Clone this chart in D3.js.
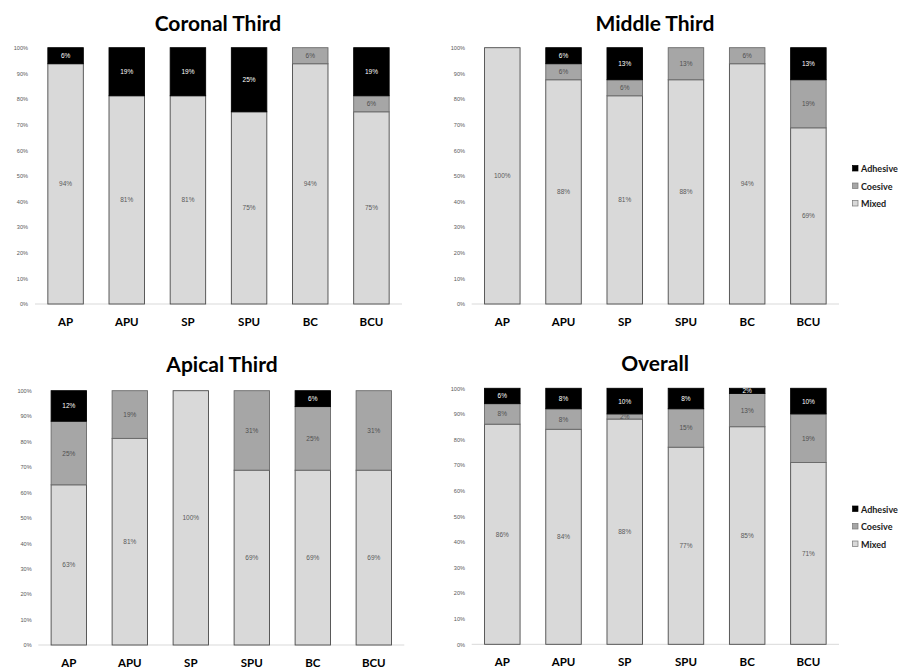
<!DOCTYPE html>
<html><head><meta charset="utf-8">
<script src="https://cdn.jsdelivr.net/npm/d3@7"></script>
<style>body{margin:0;background:#fff}svg{display:block}</style>
</head><body>
<svg id="c" width="898" height="669"></svg>
<script>
const categories = ["AP","APU","SP","SPU","BC","BCU"];
const seriesNames = ["Mixed","Coesive","Adhesive"];
const yTicks = [0,10,20,30,40,50,60,70,80,90,100];
const titles = ["Coronal Third","Middle Third","Apical Third","Overall"];
// values in percent, per category
const coronalMixed    = [93.75, 81.25, 81.25, 75, 93.75, 75];
const coronalCoesive  = [0, 0, 0, 0, 6.25, 6.25];
const coronalAdhesive = [6.25, 18.75, 18.75, 25, 0, 18.75];
const middleMixed     = [100, 87.5, 81.25, 87.5, 93.75, 68.75];
const middleCoesive   = [0, 6.25, 6.25, 12.5, 6.25, 18.75];
const middleAdhesive  = [0, 6.25, 12.5, 0, 0, 12.5];
const apicalMixed     = [63, 81.25, 100, 68.75, 68.75, 68.75];
const apicalCoesive   = [25, 18.75, 0, 31.25, 25, 31.25];
const apicalAdhesive  = [12, 0, 0, 0, 6.25, 0];
const overallMixed    = [86, 84, 88, 77, 85, 71];
const overallCoesive  = [8, 8, 2, 15, 13, 19];
const overallAdhesive = [6, 8, 10, 8, 2, 10];

const panelData = [
  [coronalMixed, coronalCoesive, coronalAdhesive],
  [middleMixed, middleCoesive, middleAdhesive],
  [apicalMixed, apicalCoesive, apicalAdhesive],
  [overallMixed, overallCoesive, overallAdhesive]
];

const layout = [
  {tx:218, ty:22, x0:35, x1:402, y0:304, y1:47.7, tickX:28, catY:321, legend:null},
  {tx:655, ty:22, x0:471.7, x1:839, y0:304, y1:47.7, tickX:465, catY:321, legend:{x:853, y:168.5}},
  {tx:222, ty:363.5, x0:38.3, x1:404.3, y0:645, y1:390.7, tickX:31.7, catY:662, legend:null},
  {tx:655, ty:362.7, x0:471.7, x1:839, y0:644.3, y1:388.3, tickX:465, catY:661, legend:{x:853, y:509}}
];

const fills = {Mixed:"#d9d9d9", Coesive:"#a6a6a6", Adhesive:"#000000"};
const strokes = {Mixed:"#4a4a4a", Coesive:"#6a6a6a", Adhesive:"#000000"};
const labelColors = {Mixed:"#5a5a5a", Coesive:"#505050", Adhesive:"#ffffff"};

const svg = d3.select("#c");

panelData.forEach((arrs, pi) => {
  const L = layout[pi];
  const g = svg.append("g");
  const x = d3.scaleBand().domain(categories).range([L.x0, L.x1]).paddingInner(0.42).paddingOuter(0.21);
  const y = d3.scaleLinear().domain([0,100]).range([L.y0, L.y1]);

  g.append("text").attr("x", L.tx).attr("y", L.ty).attr("text-anchor","middle")
    .attr("dominant-baseline","central")
    .attr("font-family","Lato, 'Open Sans', sans-serif").attr("font-weight","bold")
    .attr("font-size", 21).attr("fill","#000").text(titles[pi]);

  const yAxis = d3.axisLeft(y).tickValues(yTicks).tickSize(0).tickFormat(d => d + "%");
  const ya = g.append("g").attr("transform", `translate(${L.tickX},0)`).call(yAxis);
  ya.select(".domain").remove();
  ya.selectAll("text").attr("x", 0).attr("dx", 0).attr("font-family","'Liberation Sans', Arial, sans-serif")
    .attr("font-size", 5.6).attr("fill","#595959");

  g.append("line").attr("x1", L.x0).attr("x2", L.x1).attr("y1", y(0)).attr("y2", y(0))
    .attr("stroke","#d9d9d9").attr("stroke-width",1);

  const rows = categories.map((c, i) => {
    const r = {cat: c};
    seriesNames.forEach((s, si) => r[s] = arrs[si][i]);
    return r;
  });
  const stack = d3.stack().keys(seriesNames)(rows);

  stack.forEach(layer => {
    const key = layer.key;
    g.append("g").selectAll("rect").data(layer.filter(d => d[1] - d[0] > 0)).enter().append("rect")
      .attr("x", d => x(d.data.cat)).attr("width", x.bandwidth())
      .attr("y", d => y(d[1])).attr("height", d => y(d[0]) - y(d[1]))
      .attr("fill", fills[key]).attr("stroke", strokes[key]).attr("stroke-width", 0.9);
  });
  stack.forEach(layer => {
    const key = layer.key;
    g.append("g").selectAll("text").data(layer.filter(d => d[1] - d[0] > 0)).enter().append("text")
      .attr("x", d => x(d.data.cat) + x.bandwidth()/2)
      .attr("y", d => y((d[0] + d[1]) / 2))
      .attr("text-anchor","middle").attr("dominant-baseline","central")
      .attr("font-family","'Liberation Sans', Arial, sans-serif").attr("font-size", 6.5)
      .attr("fill", labelColors[key])
      .text(d => Math.round(d[1] - d[0]) + "%");
  });

  const xAxis = d3.axisBottom(x).tickSize(0);
  const xa = g.append("g").attr("transform", `translate(0,${L.catY})`).call(xAxis);
  xa.select(".domain").remove();
  xa.selectAll("text").attr("y", 0).attr("dy", 0).attr("dominant-baseline","central")
    .attr("font-family","Lato, 'Open Sans', sans-serif").attr("font-weight","bold")
    .attr("font-size", 11.5).attr("fill","#000");

  if (L.legend) {
    const legendOrder = ["Adhesive","Coesive","Mixed"];
    const lg = g.append("g").attr("transform", `translate(${L.legend.x},${L.legend.y})`);
    legendOrder.forEach((s, i) => {
      const row = lg.append("g").attr("transform", `translate(0,${i*17.5})`);
      row.append("rect").attr("x", -0.5).attr("y", -3).attr("width", 5.5).attr("height", 5.5)
        .attr("fill", fills[s]).attr("stroke", s === "Adhesive" ? "#000" : "#777").attr("stroke-width", 0.7);
      row.append("text").attr("x", 8).attr("y", 0).attr("dominant-baseline","central")
        .attr("font-family","Lato, 'Open Sans', sans-serif").attr("font-weight","bold")
        .attr("font-size", 9).attr("fill","#1a1a1a").text(s);
    });
  }
});
</script>
</body></html>
